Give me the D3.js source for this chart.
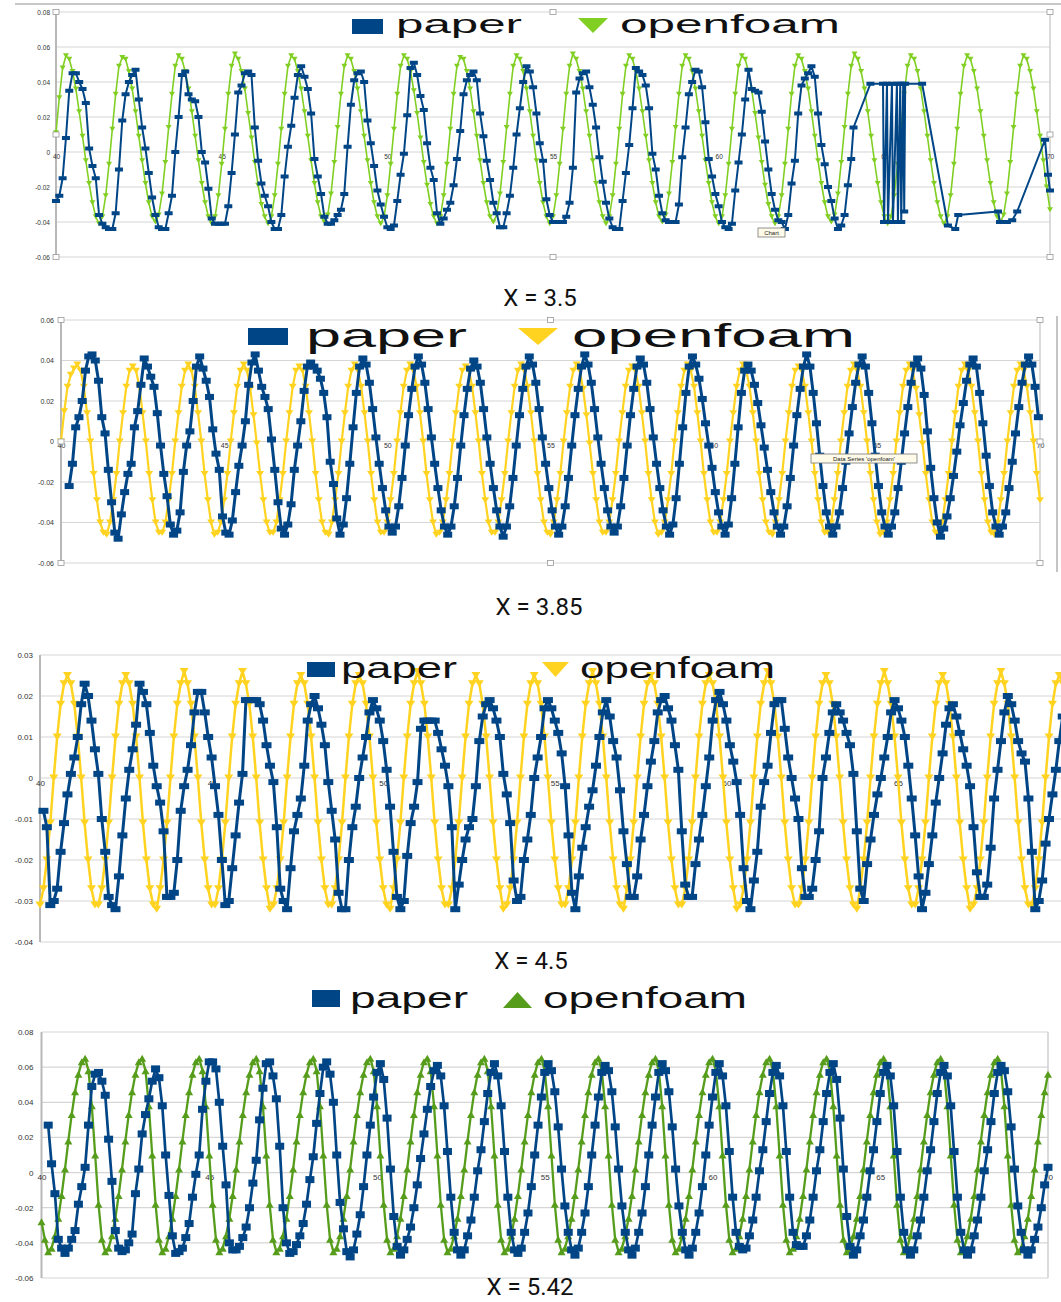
<!DOCTYPE html>
<html><head><meta charset="utf-8">
<script src="https://cdn.jsdelivr.net/npm/d3@7"></script>
<style>body{margin:0;background:#fff}svg{display:block}</style>
</head><body>
<svg id="c" width="1061" height="1302"></svg>
<script>
// ---------------- DATA ----------------
const xTicks = [40,45,50,55,60,65,70];
const xTickLabels = ["40","45","50","55","60","65","70"];
const yTicksA = [-0.06,-0.04,-0.02,0,0.02,0.04,0.06,0.08];
const yLabelsA = ["-0.06","-0.04","-0.02","0","0.02","0.04","0.06","0.08"];
const yTicksB = [-0.06,-0.04,-0.02,0,0.02,0.04,0.06];
const yLabelsB = ["-0.06","-0.04","-0.02","0","0.02","0.04","0.06"];
const yTicksC = [-0.04,-0.03,-0.02,-0.01,0,0.01,0.02,0.03];
const yLabelsC = ["-0.04","-0.03","-0.02","-0.01","0","0.01","0.02","0.03"];
const seriesNames = ["paper","openfoam"];
const titles = ["X = 3.5","X = 3.85","X = 4.5","X = 5.42"];
const sampleStep = 0.1;            // output interval of both series (time units)
const valueUnit = 0.001;           // values below are in thousandths
const foamStart = [40,40,40,40];
const paperStart = [40,40.25,40.1,40.2];

// X = 3.5
const openfoam1 = [
11,31,48,
55,53,46,36,23,9,-5,-18,-29,-37,-41,-37,-25,-7,13,33,49,
54,53,46,36,23,9,-5,-18,-29,-37,-40,-36,-24,-6,14,33,49,
55,53,46,36,23,9,-5,-18,-29,-37,-41,-37,-25,-7,13,33,49,
56,53,46,36,22,8,-6,-19,-30,-37,-41,-37,-25,-7,13,33,49,
55,53,46,36,23,9,-5,-18,-29,-37,-40,-36,-24,-6,14,33,49,
55,53,46,36,23,9,-5,-18,-29,-37,-41,-37,-25,-7,13,33,49,
55,53,46,35,22,8,-6,-19,-30,-37,-41,-37,-25,-7,13,33,49,
54,53,46,36,23,9,-5,-18,-29,-37,-40,-36,-24,-6,14,33,49,
55,53,46,36,23,9,-5,-18,-29,-37,-41,-37,-25,-7,13,33,49,
56,53,46,36,23,9,-5,-18,-29,-37,-41,-37,-25,-7,13,33,49,
55,53,46,36,23,9,-5,-18,-29,-37,-40,-36,-24,-6,14,33,49,
55,53,46,36,23,9,-5,-18,-29,-37,-41,-37,-25,-7,13,33,49,
55,53,46,35,22,8,-6,-19,-30,-37,-41,-37,-25,-7,13,33,49,
55,53,46,36,23,9,-5,-18,-29,-37,-40,-36,-24,-6,14,33,49,
56,53,46,36,23,9,-5,-18,-29,-37,-41,-37,-25,-7,13,33,49,
55,53,46,36,23,9,-5,-18,-29,-37,-41,-37,-25,-7,13,33,49,
55,53,46,36,23,9,-5,-18,-29,-37,-40,-36,-24,-6,14,33,49,
55,53,46,36,23,9,-5,-20,-33
];
const paper1 = [
-28,-25,-15,8,35,45,45,40,36,28,2,-8,-15,-36,-41,-43,-44,-44,
-35,-10,18,33,40,44,47,30,14,2,-12,-26,-36,-43,-44,-44,
-35,-25,0,20,44,46,33,30,29,20,0,-6,-21,-38,-41,-41,-41,-41,
-31,-12,10,34,38,45,46,44,14,-5,-18,-25,-31,-40,-44,-44,
-36,-14,3,15,31,44,49,43,36,22,-4,-14,-24,-37,-41,-41,-39,-36,-33,-24,3,27,41,45,
46,40,18,5,-8,-22,-30,-37,-43,-44,-42,-28,-13,-1,21,48,51,
44,32,24,5,-9,-16,-35,-41,-38,-33,-29,-19,-4,12,33,41,44,46,
41,22,9,-5,-16,-29,-35,-43,-43,-35,-25,-9,10,25,40,49,
46,37,22,5,-5,-27,-36,-40,-40,-40,-40,-37,-29,-9,34,42,45,46,
37,27,14,-3,-17,-29,-38,-43,-44,-44,-28,-12,4,25,48,
46,44,38,25,-1,-10,-25,-35,-39,-40,-40,-40,-30,-3,14,33,40,47,46,
37,17,-4,-14,-24,-31,-40,-43,-44,-41,-22,-6,10,30,47,
36,35,34,23,6,-10,-24,-33,-39,-40,-44,-36,-18,-5,22,38,42,45,49,
43,22,4,-7,-20,-28,-38,-44,-42,-36,-19,-4
];
const paper1TailT = [64.07,64.58,64.96,64.99,65.08,65.11,65.23,65.26,65.38,65.41,65.48,65.51,65.57,65.6,65.63,66.14,66.92,67.14,67.23,68.43,68.49,68.7,68.86,69.01,69.85,69.94,70.0];
const paper1TailV = [14,39,39,-40,39,-40,39,-40,39,-40,39,-40,39,-34,39,39,-42,-44,-36,-34,-40,-40,-39,-34,7,-13,-22];

// X = 3.85
const openfoam2 = [
0,15,27,33,36,
38,35,27,14,0,-16,-29,-40,-45,-46,-40,-29,-16,0,14,27,35,
37,35,27,14,0,-16,-29,-40,-45,-45,-40,-29,-16,0,14,27,35,
38,35,27,14,0,-16,-29,-40,-46,-45,-40,-29,-16,0,14,27,35,
38,35,26,13,-1,-16,-29,-40,-45,-45,-40,-29,-16,0,14,27,35,
37,35,27,14,0,-16,-29,-40,-45,-46,-40,-29,-16,0,14,27,35,
38,35,27,14,0,-16,-29,-40,-45,-45,-40,-29,-16,0,14,27,35,
38,35,27,14,0,-16,-29,-40,-46,-45,-40,-29,-16,0,14,27,35,
37,35,27,14,0,-16,-29,-40,-45,-45,-40,-29,-16,0,14,27,35,
38,35,27,14,0,-16,-29,-40,-45,-46,-40,-29,-16,0,14,27,35,
38,35,26,13,-1,-16,-29,-40,-45,-45,-40,-29,-16,0,14,27,35,
37,35,27,14,0,-16,-29,-40,-46,-45,-40,-29,-16,0,14,27,35,
38,35,27,14,0,-16,-29,-40,-45,-45,-40,-29,-16,0,14,27,35,
38,35,27,14,0,-16,-29,-40,-45,-46,-40,-29,-16,0,14,27,35,
37,35,27,14,0,-16,-29,-40,-45,-45,-40,-29,-16,0,14,27,35,
38,35,27,14,0,-16,-29,-40,-46,-45,-40,-29,-16,0,14,27,35,
38,35,26,13,-1,-16,-29,-40,-45,-45,-40,-29,-16,0,14,27,35,
38,35,27,14,0,-16,-29,-40,-45,-46,-40,-29,-16,0,14,27,35,
38,35,27,14,0,-16,-29
];
const paper2 = [
-22,-11,7,12,20,35,42,43,
40,30,12,4,-14,-30,-45,-48,
-36,-25,-16,-11,7,15,28,41,
37,32,27,14,-2,-16,-27,-41,-46,
-44,-35,-15,-2,5,20,37,42,
36,30,22,6,-6,-14,-37,-45,-46,
-39,-25,-12,-2,10,28,39,43,
35,27,22,16,1,-14,-30,-43,-46,
-41,-31,-14,-2,10,25,37,39,
37,35,31,24,12,-10,-21,-38,-46,
-41,-28,-11,7,24,37,41,
38,29,16,2,-11,-23,-34,-42,-45,
-42,-32,-18,-2,13,26,37,42,
38,29,16,2,-11,-23,-34,-42,-46,
-42,-32,-18,-2,13,26,36,40,
37,29,16,2,-11,-23,-34,-42,-47,
-42,-32,-18,-2,13,26,37,42,
38,29,16,2,-11,-23,-34,-42,-46,
-42,-32,-18,-2,13,26,37,43,
38,29,16,2,-11,-23,-34,-42,-45,
-42,-32,-18,-2,13,26,37,41,
38,29,16,2,-11,-23,-34,-42,-46,
-41,-28,-11,7,24,37,42,
38,31,21,9,-2,-13,-25,-35,-42,-46,
-41,-28,-11,7,24,35,38,
35,28,19,8,-3,-14,-25,-35,-42,-46,
-42,-32,-18,-2,13,26,37,43,
37,24,9,-7,-22,-35,-42,-46,
-42,-35,-23,-10,4,17,29,38,42,
37,24,9,-7,-22,-35,-42,-46,
-42,-35,-23,-10,4,17,29,38,41,
36,23,5,-13,-28,-40,-47,
-43,-37,-28,-17,-5,8,19,30,38,41,
37,24,9,-7,-22,-35,-42,-46,
-42,-35,-23,-10,4,17,29,38,42,
38,27,12
];

// X = 4.5
const openfoam3 = [
-31,-27,-20,-11,0,10,18,23,
25,23,18,10,0,-11,-20,-27,-31,-31,-27,-20,-11,0,10,18,23,
25,23,18,10,0,-11,-20,-27,-31,-32,-27,-20,-11,0,10,18,23,
26,23,18,10,0,-11,-20,-27,-31,-31,-27,-20,-11,0,10,18,23,
26,23,18,10,0,-11,-20,-27,-32,-31,-27,-20,-11,0,10,18,23,
25,23,18,10,0,-11,-20,-27,-31,-31,-27,-20,-11,0,10,18,23,
25,23,18,10,0,-11,-20,-27,-31,-32,-27,-20,-11,0,10,18,23,
26,23,18,10,0,-11,-20,-27,-31,-31,-27,-20,-11,0,10,18,23,
25,23,18,10,0,-11,-20,-27,-32,-31,-27,-20,-11,0,10,18,23,
25,23,18,10,0,-11,-20,-27,-31,-31,-27,-20,-11,0,10,18,23,
26,23,18,10,0,-11,-20,-27,-31,-32,-27,-20,-11,0,10,18,23,
25,23,18,10,0,-11,-20,-27,-31,-31,-27,-20,-11,0,10,18,23,
25,23,18,10,0,-11,-20,-27,-32,-31,-27,-20,-11,0,10,18,23,
26,23,18,10,0,-11,-20,-27,-31,-31,-27,-20,-11,0,10,18,23,
25,23,18,10,0,-11,-20,-27,-31,-32,-27,-20,-11,0,10,18,23,
26,23,18,10,0,-11,-20,-27,-31,-31,-27,-20,-11,0,10,18,23,
25,23,18,10,0,-11,-20,-27,-32,-31,-27,-20,-11,0,10,18,23,
26,23,18,10,0,-11,-20,-27,-31,-31,-27,-20,-11,0,10,18,23,
25,23,18,10
];
const paper3 = [
-8,-12,-31,-30,-27,-18,-11,-4,1,5,
10,18,23,20,14,7,1,-10,-18,-29,
-31,-32,-24,-14,-5,2,7,13,23,21,
18,11,3,-2,-6,-13,-29,-29,-28,-20,
-8,-2,2,8,16,21,21,16,10,5,
-2,-9,-20,-31,-30,-22,-14,-6,1,19,
19,19,19,18,14,8,3,-1,-12,-27,
-30,-32,-22,-13,-9,-5,3,14,18,20,
17,13,8,-1,-8,-15,-28,-32,-32,-20,
-12,-7,0,5,10,16,19,17,14,9,
2,-7,-18,-29,-32,-30,-19,-11,-7,-1,
12,14,14,14,14,11,7,3,-2,-12,
-32,-26,-20,-15,-12,-10,-2,9,15,18,
19,17,14,10,1,-4,-11,-25,-30,-29,
-20,-15,-9,0,5,10,17,19,17,14,
11,6,-2,-14,-28,-32,-24,-17,-12,-7,
-3,3,10,16,19,15,9,5,-3,-13,
-21,-29,-29,-24,-15,-9,-2,4,9,16,
19,20,17,14,8,2,-13,-26,-29,-29,
-21,-15,-9,-2,5,14,19,21,18,14,
8,4,-1,-9,-22,-30,-32,-25,-18,-7,
-1,3,11,18,19,19,12,5,0,-5,
-10,-22,-29,-29,-27,-20,-13,0,5,11,
16,18,16,14,11,8,1,-13,-27,-30,
-21,-15,-9,-4,0,5,10,16,19,17,
14,10,3,-5,-14,-24,-32,-28,-21,-14,
-6,0,6,13,17,18,15,11,7,3,
-2,-12,-23,-29,-29,-26,-17,-5,2,9,
16,20,18,14,9,6,4,-5,-18,-32,
-30,-25,-16,-10,-4,2,9,15,20,21
];

// X = 5.42
const openfoam4 = [
-28,-38,-45,-43,-36,-26,-13,2,18,33,46,56,63,
65,58,38,10,-18,-38,-45,-43,-36,-26,-13,2,18,33,46,56,63,
65,58,38,10,-18,-38,-45,-43,-36,-26,-13,2,18,33,46,56,63,
65,58,38,10,-18,-38,-45,-43,-36,-26,-13,2,18,33,46,56,63,
65,58,38,10,-18,-38,-45,-43,-36,-26,-13,2,18,33,46,56,63,
65,58,38,10,-18,-38,-45,-43,-36,-26,-13,2,18,33,46,56,63,
65,58,38,10,-18,-38,-45,-43,-36,-26,-13,2,18,33,46,56,63,
65,58,38,10,-18,-38,-45,-43,-36,-26,-13,2,18,33,46,56,63,
65,58,38,10,-18,-38,-45,-43,-36,-26,-13,2,18,33,46,56,63,
65,58,38,10,-18,-38,-45,-43,-36,-26,-13,2,18,33,46,56,63,
65,58,38,10,-18,-38,-45,-43,-36,-26,-13,2,18,33,46,56,63,
65,58,38,10,-18,-38,-45,-43,-36,-26,-13,2,18,33,46,56,63,
65,58,38,10,-18,-38,-45,-43,-36,-26,-13,2,18,33,46,56,63,
65,58,38,10,-18,-38,-45,-43,-36,-26,-13,2,18,33,46,56,63,
65,58,38,10,-18,-38,-45,-43,-36,-26,-13,2,18,33,46,56,63,
65,58,38,10,-18,-38,-45,-43,-36,-26,-13,2,18,33,46,56,63,
65,58,38,10,-18,-38,-45,-43,-36,-26,-13,2,18,33,46,56,63,
65,58,38,10,-18,-38,-45,-43,-36,-26,-13,2,18,33,46,56
];
const paper4 = [
27,5,-12,-38,-43,-46,-43,-38,-33,-18,
-8,3,27,49,56,57,52,44,19,-5,
-33,-43,-45,-44,-40,-35,-12,2,22,33,
42,52,59,54,38,10,-13,-36,-46,-45,
-43,-37,-29,-14,-1,10,36,52,63,63,
59,40,15,-7,-40,-44,-44,-42,-37,-31,
-20,-6,7,30,48,62,63,55,42,15,
-20,-40,-46,-45,-41,-36,-29,-18,-4,9,
28,45,60,63,56,40,10,-17,-32,-45,
-48,-44,-35,-24,-8,10,27,43,57,62,
53,31,2,-25,-42,-47,-44,-38,-31,-20,
-7,8,22,36,49,58,61,55,38,12,
-14,-34,-44,-47,-44,-36,-27,-14,1,13,
29,45,57,62,55,38,12,-14,-34,-44,
-46,-43,-34,-23,-8,10,27,43,57,62,
58,46,26,2,-19,-34,-44,-47,-43,-34,
-23,-8,10,27,43,57,61,58,46,26,
2,-19,-34,-44,-47,-43,-34,-23,-8,10,
27,43,57,62,58,46,26,2,-19,-34,
-44,-47,-43,-34,-23,-8,10,27,43,57,
62,55,38,12,-14,-34,-42,-44,-43,-36,
-27,-14,1,13,29,45,57,61,55,38,
12,-14,-34,-41,-42,-42,-36,-27,-14,1,
13,29,45,57,62,53,31,2,-25,-42,
-47,-44,-36,-27,-14,1,13,29,45,57,
61,55,38,12,-14,-34,-44,-47,-44,-36,
-27,-14,1,13,29,45,57,61,55,38,
12,-14,-34,-44,-47,-44,-36,-27,-14,1,
13,29,45,57,61,58,46,26,2,-19,
-34,-44,-47,-44,-38,-31,-20,-7,3
];

// ---------------- LAYOUT ----------------
const blue = "#004586";
const panels = [
 {x0:56, x1:1050, yT:12, yB:257, dom:[-0.06,0.08], yt:yTicksA, yl:yLabelsA,
  foam:openfoam1, paper:paper1, tailT:paper1TailT, tailV:paper1TailV,
  fc:"#80cf22", dir:"down", pW:2, fW:1.6, pm:[8,4], fm:[6,5], axFont:6.5, labGap:6,
  sq:[352,19,31,15], pt:[396,33,25,126], tr:[578,18,30,15], ft:[620,33,25,220], title:[540,306]},
 {x0:61, x1:1040, yT:320, yB:563, dom:[-0.06,0.06], yt:yTicksB, yl:yLabelsB,
  foam:openfoam2, paper:paper2,
  fc:"#ffd320", dir:"down", pW:3, fW:2.2, pm:[9,6], fm:[8,6], axFont:7, labGap:7,
  sq:[248,328,40,17], pt:[306,347,33,161], tr:[518,328,40,17], ft:[572,347,33,283], title:[539,615]},
 {x0:40, x1:1069.6, yT:655, yB:942, dom:[-0.04,0.03], yt:yTicksC, yl:yLabelsC,
  foam:openfoam3, paper:paper3,
  fc:"#ffd320", dir:"down", pW:3, fW:2.5, pm:[10,6], fm:[9,7], axFont:8, labGap:7,
  sq:[307,662,28,15], pt:[341,678,29,116], tr:[542,662,27,15], ft:[580,678,29,195], title:[531,969]},
 {x0:41.5, x1:1048, yT:1032, yB:1278, dom:[-0.06,0.08], yt:yTicksA, yl:yLabelsA,
  foam:openfoam4, paper:paper4,
  fc:"#579d1c", dir:"up", pW:2.7, fW:2.3, pm:[9,7], fm:[8,7], axFont:8, labGap:8,
  sq:[312,990,28,17], pt:[350,1008,29,118], tr:[503,992,29,16], ft:[543,1008,29,204], title:[530,1295]}
];

const svg = d3.select("#c");
svg.append("rect").attr("width",1061).attr("height",1302).attr("fill","#fff");

function triPath(cx, cy, w, h, dir){
  const s = dir === "up" ? -1 : 1;
  return `M${cx-w/2},${cy-s*h/2}L${cx+w/2},${cy-s*h/2}L${cx},${cy+s*h/2}Z`;
}

// decorative frame bits of the screenshots
svg.append("line").attr("x1",15).attr("x2",1061).attr("y1",4).attr("y2",4).attr("stroke","#c8c8c8").attr("stroke-width",2);
svg.append("line").attr("x1",1057).attr("x2",1057).attr("y1",316).attr("y2",572).attr("stroke","#c4c4c4").attr("stroke-width",2);

panels.forEach((p, k) => {
  const g = svg.append("g");
  const x = d3.scaleLinear().domain([40,70]).range([p.x0, p.x1]);
  const y = d3.scaleLinear().domain(p.dom).range([p.yB, p.yT]);

  // gridlines
  g.selectAll(".grid").data(p.yt).join("line")
    .attr("x1", p.x0).attr("x2", p.x1)
    .attr("y1", d => y(d)).attr("y2", d => y(d))
    .attr("stroke", "#d6d6d6").attr("stroke-width", 1.2);
  // left axis line and right border
  g.append("line").attr("x1",p.x0).attr("x2",p.x0).attr("y1",p.yT).attr("y2",p.yB)
    .attr("stroke","#b8b8b8").attr("stroke-width",2);
  if (k !== 2) g.append("line").attr("x1",p.x1).attr("x2",p.x1).attr("y1",p.yT).attr("y2",p.yB)
    .attr("stroke","#cfcfcf").attr("stroke-width",1.5);

  // y axis labels
  const ya = g.append("g").attr("transform",`translate(${p.x0},0)`)
    .call(d3.axisLeft(y).tickValues(p.yt).tickFormat((d,i)=>p.yl[i]).tickSize(0).tickPadding(p.labGap));
  ya.select(".domain").remove();
  ya.selectAll("text").attr("font-family","Liberation Sans, Arial, sans-serif")
    .attr("font-size",p.axFont).attr("fill","#333");

  // x axis labels along zero line (only those inside the visible screenshot)
  const visX = xTicks.filter(t => x(t) <= 1052);
  const xa = g.append("g").attr("transform",`translate(0,${y(0)})`)
    .call(d3.axisBottom(x).tickValues(visX).tickFormat(d=>xTickLabels[xTicks.indexOf(d)]).tickSize(0).tickPadding(2));
  xa.select(".domain").remove();
  xa.selectAll("text").attr("font-family","Liberation Sans, Arial, sans-serif")
    .attr("font-size",p.axFont).attr("fill","#333");

  // series data
  const fs = foamStart[k], ps = paperStart[k];
  const foamPts = p.foam.map((v,i)=>({t: fs + i*sampleStep, v: v*valueUnit}));
  let paperPts = p.paper.map((v,i)=>({t: ps + i*sampleStep, v: v*valueUnit}));
  if (p.tailT) paperPts = paperPts.concat(p.tailT.map((t,i)=>({t, v: p.tailV[i]*valueUnit})));

  const line = d3.line().x(d=>x(d.t)).y(d=>y(d.v));

  // openfoam
  g.append("path").datum(foamPts).attr("d",line).attr("fill","none")
    .attr("stroke",p.fc).attr("stroke-width",p.fW).attr("stroke-linejoin","round");
  g.selectAll(".fm").data(foamPts).join("path")
    .attr("d", d => triPath(x(d.t), y(d.v), p.fm[0], p.fm[1], p.dir))
    .attr("fill", p.fc);

  // paper
  g.append("path").datum(paperPts).attr("d",line).attr("fill","none")
    .attr("stroke",blue).attr("stroke-width",p.pW).attr("stroke-linejoin","round");
  g.selectAll(".pm").data(paperPts).join("rect")
    .attr("x", d => x(d.t)-p.pm[0]/2).attr("y", d => y(d.v)-p.pm[1]/2)
    .attr("width", p.pm[0]).attr("height", p.pm[1]).attr("fill", blue);

  // legend
  g.append("rect").attr("x",p.sq[0]).attr("y",p.sq[1]).attr("width",p.sq[2]).attr("height",p.sq[3]).attr("fill",blue);
  g.append("text").attr("x",p.pt[0]).attr("y",p.pt[1]).attr("font-size",p.pt[2])
    .attr("font-family","Liberation Sans, Arial, sans-serif").attr("fill","#111")
    .attr("textLength",p.pt[3]).attr("lengthAdjust","spacingAndGlyphs").text(seriesNames[0]);
  g.append("path").attr("d", triPath(p.tr[0]+p.tr[2]/2, p.tr[1]+p.tr[3]/2, p.tr[2], p.tr[3], p.dir)).attr("fill",p.fc);
  g.append("text").attr("x",p.ft[0]).attr("y",p.ft[1]).attr("font-size",p.ft[2])
    .attr("font-family","Liberation Sans, Arial, sans-serif").attr("fill","#111")
    .attr("textLength",p.ft[3]).attr("lengthAdjust","spacingAndGlyphs").text(seriesNames[1]);

  // title
  svg.append("text").attr("x",p.title[0]).attr("y",p.title[1]).attr("text-anchor","middle")
    .attr("font-family","Roboto, sans-serif").attr("font-size",24).attr("fill","#111").text(titles[k]);

  // selection handles on the first two screenshots
  if (k < 2) {
    const xm = (p.x0+p.x1)/2, ym = (p.yT+p.yB)/2;
    [[p.x0,p.yT],[p.x0,ym],[p.x0,p.yB],[p.x1,p.yT],[p.x1,ym],[p.x1,p.yB],[xm,p.yT],[xm,p.yB]].forEach(h=>{
      g.append("rect").attr("x",h[0]-3).attr("y",h[1]-2.5).attr("width",6).attr("height",5)
        .attr("fill","#fff").attr("stroke","#999").attr("stroke-width",0.8);
    });
  }
});

// tooltips seen in the screenshots
const tips = [{x:758,y:228,w:27,h:9,t:"Chart"},{x:811,y:454,w:106,h:9,t:"Data Series 'openfoam'"}];
tips.forEach(tp=>{
  svg.append("rect").attr("x",tp.x).attr("y",tp.y).attr("width",tp.w).attr("height",tp.h)
    .attr("fill","#fffbe8").attr("stroke","#777").attr("stroke-width",0.8);
  svg.append("text").attr("x",tp.x+tp.w/2).attr("y",tp.y+tp.h-2.2).attr("text-anchor","middle")
    .attr("font-family","Liberation Sans, Arial, sans-serif").attr("font-size",6).attr("fill","#222").text(tp.t);
});
</script>
</body></html>
